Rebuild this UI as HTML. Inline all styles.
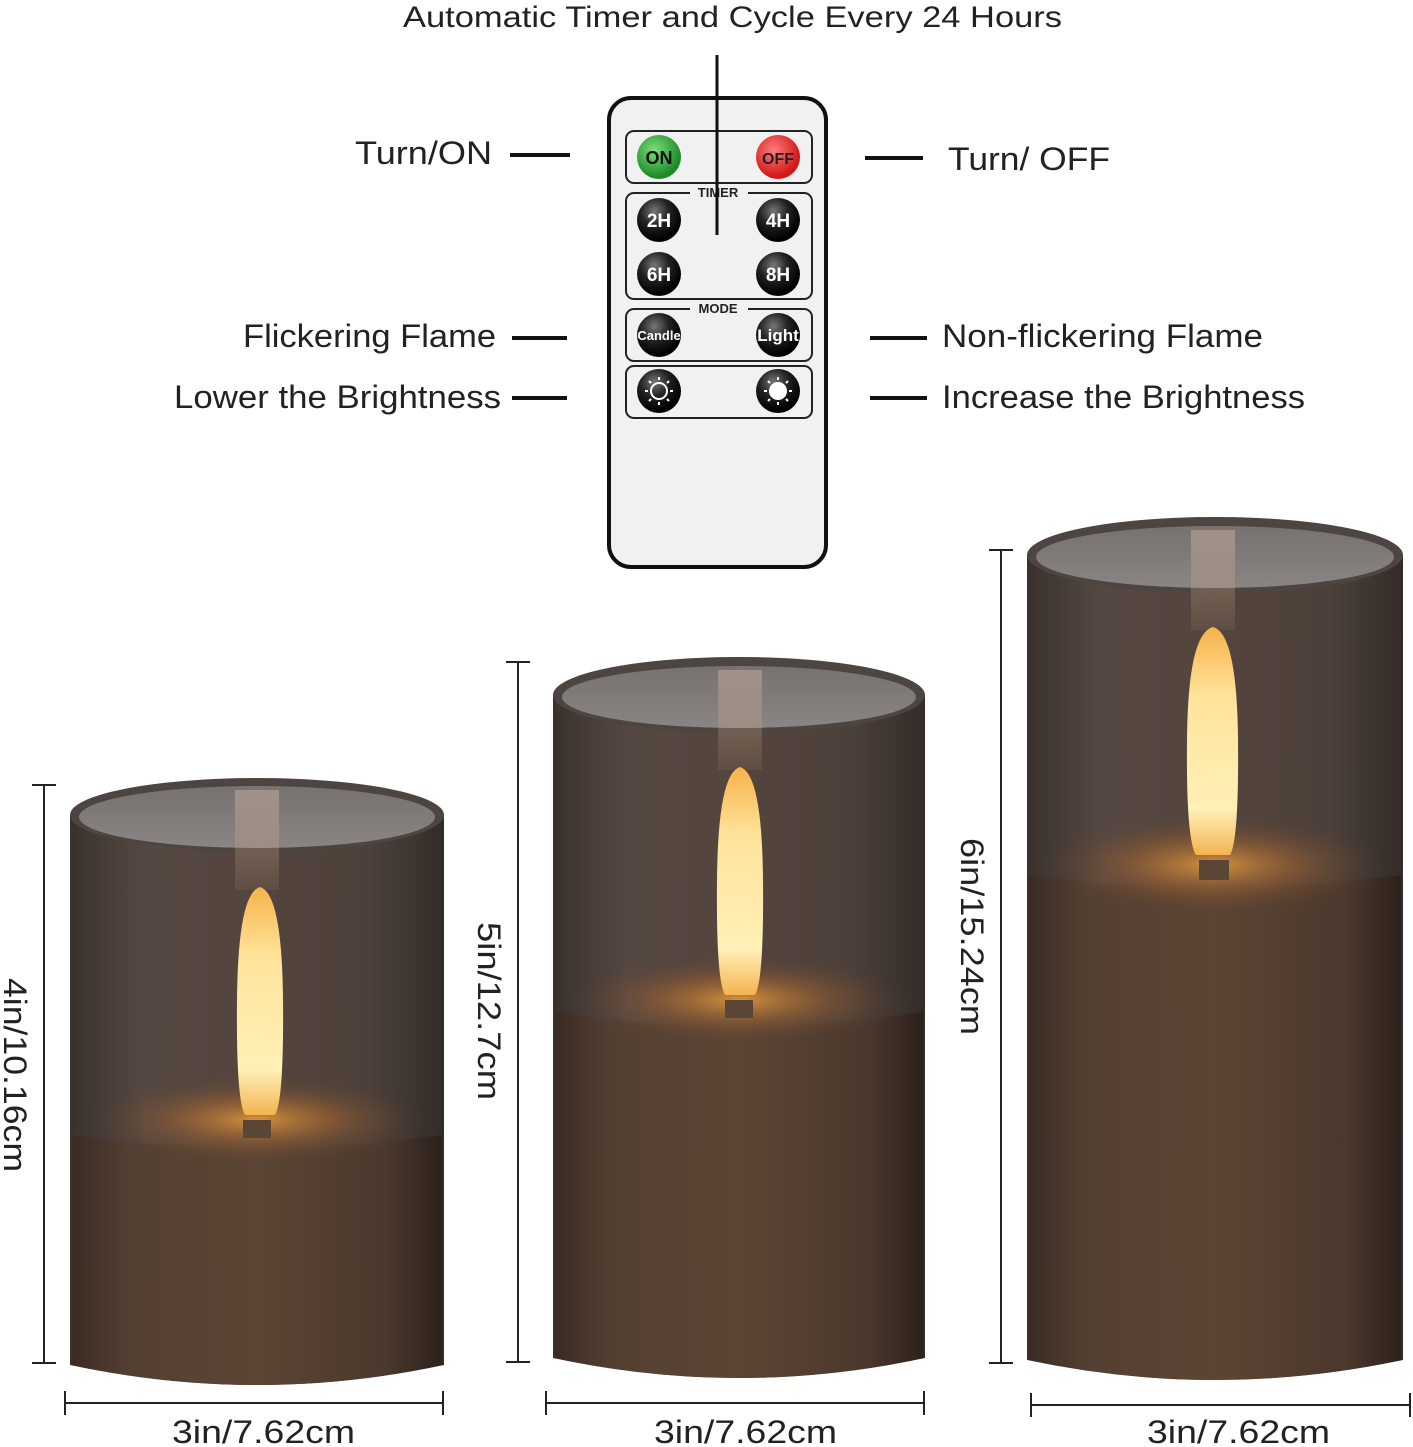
<!DOCTYPE html>
<html><head><meta charset="utf-8"><style>
body{margin:0;background:#fff;}
svg{display:block;font-family:"Liberation Sans","DejaVu Sans",sans-serif;}
</style></head><body>
<svg width="1413" height="1447" viewBox="0 0 1413 1447" xmlns="http://www.w3.org/2000/svg">
<defs>
<linearGradient id="body" x1="0" x2="1" y1="0" y2="0">
<stop offset="0" stop-color="#3a2b23"/><stop offset="0.15" stop-color="#533f32"/><stop offset="0.5" stop-color="#5c4534"/><stop offset="0.85" stop-color="#4b382d"/><stop offset="1" stop-color="#2c211c"/>
</linearGradient>
<linearGradient id="glass" x1="0" x2="1" y1="0" y2="0">
<stop offset="0" stop-color="#3a312d"/><stop offset="0.2" stop-color="#554842"/><stop offset="0.5" stop-color="#54453d"/><stop offset="0.8" stop-color="#4c403a"/><stop offset="1" stop-color="#342c29"/>
</linearGradient>
<linearGradient id="inner" x1="0" x2="0" y1="0" y2="1">
<stop offset="0" stop-color="#77716f"/><stop offset="1" stop-color="#8a8482"/>
</linearGradient>
<linearGradient id="col" x1="0" x2="0" y1="0" y2="1">
<stop offset="0" stop-color="#c9b3a2" stop-opacity="0.5"/><stop offset="1" stop-color="#c9a27f" stop-opacity="0.1"/>
</linearGradient>
<radialGradient id="glow" cx="0.5" cy="0.5" r="0.5">
<stop offset="0" stop-color="#e39a3d" stop-opacity="0.9"/><stop offset="0.5" stop-color="#a0622f" stop-opacity="0.5"/><stop offset="1" stop-color="#5a4032" stop-opacity="0"/>
</radialGradient>
<linearGradient id="flame" x1="0" x2="0" y1="0" y2="1">
<stop offset="0" stop-color="#f7b24a"/><stop offset="0.3" stop-color="#ffe39a"/><stop offset="0.8" stop-color="#fff0b8"/><stop offset="1" stop-color="#f3b450"/>
</linearGradient>
<radialGradient id="btnG" cx="0.4" cy="0.35" r="0.6"><stop offset="0" stop-color="#7be07b"/><stop offset="1" stop-color="#1d8a2a"/></radialGradient>
<radialGradient id="btnR" cx="0.4" cy="0.35" r="0.6"><stop offset="0" stop-color="#ff7b7b"/><stop offset="1" stop-color="#d11818"/></radialGradient>
<radialGradient id="btnK" cx="0.4" cy="0.3" r="0.65"><stop offset="0" stop-color="#777"/><stop offset="0.5" stop-color="#222"/><stop offset="1" stop-color="#000"/></radialGradient>
</defs>

<text x="403" y="27" font-size="30" fill="#222" textLength="659" lengthAdjust="spacingAndGlyphs">Automatic Timer and Cycle Every 24 Hours</text>

<!-- Remote -->
<rect x="609" y="98" width="217" height="469" rx="22" fill="#f1f1f1" stroke="#111" stroke-width="4"/>
<rect x="626" y="131" width="186" height="52" rx="8" fill="none" stroke="#222" stroke-width="2"/>
<rect x="626" y="193" width="186" height="106" rx="8" fill="none" stroke="#222" stroke-width="2"/>
<rect x="626" y="309" width="186" height="52" rx="8" fill="none" stroke="#222" stroke-width="2"/>
<rect x="626" y="366" width="186" height="52" rx="8" fill="none" stroke="#222" stroke-width="2"/>
<rect x="690" y="185" width="58" height="14" fill="#f1f1f1"/>
<rect x="690" y="301" width="58" height="14" fill="#f1f1f1"/>
<text x="718" y="197" font-size="13" font-weight="bold" text-anchor="middle" fill="#222">TIMER</text>
<text x="718" y="313" font-size="13" font-weight="bold" text-anchor="middle" fill="#222">MODE</text>
<line x1="717" y1="55" x2="717" y2="235" stroke="#111" stroke-width="3"/>
<circle cx="659" cy="157" r="22" fill="url(#btnG)"/><text x="659" y="164" font-size="18" font-weight="bold" text-anchor="middle" fill="#111">ON</text>
<circle cx="778" cy="157" r="22" fill="url(#btnR)"/><text x="778" y="164" font-size="16" font-weight="bold" text-anchor="middle" fill="#222">OFF</text>
<g fill="#fff" font-size="19" font-weight="bold" text-anchor="middle">
<circle cx="659" cy="220" r="22" fill="url(#btnK)"/><text x="659" y="227">2H</text>
<circle cx="778" cy="220" r="22" fill="url(#btnK)"/><text x="778" y="227">4H</text>
<circle cx="659" cy="274" r="22" fill="url(#btnK)"/><text x="659" y="281">6H</text>
<circle cx="778" cy="274" r="22" fill="url(#btnK)"/><text x="778" y="281">8H</text>
<circle cx="659" cy="335" r="22" fill="url(#btnK)"/><text x="659" y="340" font-size="13">Candle</text>
<circle cx="778" cy="335" r="22" fill="url(#btnK)"/><text x="778" y="341" font-size="17">Light</text>
<circle cx="659" cy="391" r="22" fill="url(#btnK)"/>
<circle cx="778" cy="391" r="22" fill="url(#btnK)"/>
</g>
<circle cx="659" cy="391" r="8" fill="none" stroke="#fff" stroke-width="2"/>
<g stroke="#fff" stroke-width="2">
<line x1="659" y1="377" x2="659" y2="380"/><line x1="659" y1="402" x2="659" y2="405"/><line x1="645" y1="391" x2="648" y2="391"/><line x1="670" y1="391" x2="673" y2="391"/>
<line x1="649" y1="381" x2="651" y2="383"/><line x1="667" y1="399" x2="669" y2="401"/><line x1="649" y1="401" x2="651" y2="399"/><line x1="667" y1="383" x2="669" y2="381"/>
<line x1="778" y1="377" x2="778" y2="380"/><line x1="778" y1="402" x2="778" y2="405"/><line x1="764" y1="391" x2="767" y2="391"/><line x1="789" y1="391" x2="792" y2="391"/>
<line x1="768" y1="381" x2="770" y2="383"/><line x1="786" y1="399" x2="788" y2="401"/><line x1="768" y1="401" x2="770" y2="399"/><line x1="786" y1="383" x2="788" y2="381"/>
</g>
<circle cx="778" cy="391" r="9" fill="#fff"/>

<!-- Labels -->
<g font-size="32" fill="#222" lengthAdjust="spacingAndGlyphs">
<text x="355" y="164" textLength="137" lengthAdjust="spacingAndGlyphs">Turn/ON</text>
<text x="948" y="170" textLength="162" lengthAdjust="spacingAndGlyphs">Turn/ OFF</text>
<text x="243" y="347" textLength="253" lengthAdjust="spacingAndGlyphs">Flickering Flame</text>
<text x="942" y="347" textLength="321" lengthAdjust="spacingAndGlyphs">Non-flickering Flame</text>
<text x="174" y="408" textLength="327" lengthAdjust="spacingAndGlyphs">Lower the Brightness</text>
<text x="942" y="408" textLength="363" lengthAdjust="spacingAndGlyphs">Increase the Brightness</text>
</g>
<g stroke="#111" stroke-width="4">
<line x1="510" y1="155" x2="570" y2="155"/>
<line x1="865" y1="158" x2="923" y2="158"/>
<line x1="512" y1="338" x2="567" y2="338"/>
<line x1="870" y1="338" x2="927" y2="338"/>
<line x1="512" y1="398" x2="567" y2="398"/>
<line x1="870" y1="398" x2="927" y2="398"/>
</g>

<!-- Candle 1 -->
<g>
<path d="M70 815 L70 1365 Q257 1405 444 1365 L444 815 Z" fill="url(#glass)"/>
<path d="M72 1135 L72 1365 Q257 1405 442 1365 L442 1135 Q257 1160 72 1135 Z" fill="url(#body)"/>
<ellipse cx="257" cy="1120" rx="170" ry="45" fill="url(#glow)"/>
<ellipse cx="257" cy="815" rx="187" ry="37" fill="#4d4541"/>
<ellipse cx="257" cy="817" rx="178" ry="31" fill="url(#inner)"/>
<rect x="235" y="790" width="44" height="100" fill="url(#col)"/>
<path d="M260 887 Q238 893 237 1000 Q236 1100 245 1115 L275 1115 Q284 1100 283 1000 Q282 893 260 887 Z" fill="url(#flame)"/>
<rect x="243" y="1120" width="28" height="18" fill="#5a4636"/>
</g>
<!-- Candle 2 -->
<g>
<path d="M553 695 L553 1358 Q739 1398 925 1358 L925 695 Z" fill="url(#glass)"/>
<path d="M555 1012 L555 1358 Q739 1398 923 1358 L923 1012 Q739 1040 555 1012 Z" fill="url(#body)"/>
<ellipse cx="739" cy="1000" rx="170" ry="45" fill="url(#glow)"/>
<ellipse cx="739" cy="695" rx="186" ry="38" fill="#4d4541"/>
<ellipse cx="739" cy="697" rx="177" ry="31" fill="url(#inner)"/>
<rect x="718" y="670" width="44" height="100" fill="url(#col)"/>
<path d="M740 767 Q718 773 717 880 Q716 980 725 995 L755 995 Q764 980 763 880 Q762 773 740 767 Z" fill="url(#flame)"/>
<rect x="725" y="1000" width="28" height="18" fill="#5a4636"/>
</g>
<!-- Candle 3 -->
<g>
<path d="M1027 555 L1027 1360 Q1215 1400 1403 1360 L1403 555 Z" fill="url(#glass)"/>
<path d="M1029 875 L1029 1360 Q1215 1400 1401 1360 L1401 875 Q1215 900 1029 875 Z" fill="url(#body)"/>
<ellipse cx="1213" cy="865" rx="175" ry="50" fill="url(#glow)"/>
<ellipse cx="1215" cy="555" rx="188" ry="38" fill="#4d4541"/>
<ellipse cx="1215" cy="557" rx="179" ry="31" fill="url(#inner)"/>
<rect x="1191" y="530" width="44" height="100" fill="url(#col)"/>
<path d="M1213 627 Q1188 633 1187 740 Q1186 840 1196 855 L1230 855 Q1239 840 1238 740 Q1237 633 1213 627 Z" fill="url(#flame)"/>
<rect x="1199" y="860" width="30" height="20" fill="#5a4636"/>
</g>

<!-- Dimensions -->
<g stroke="#222" stroke-width="2">
<line x1="44" y1="785" x2="44" y2="1363"/><line x1="32" y1="785" x2="56" y2="785"/><line x1="32" y1="1363" x2="56" y2="1363"/>
<line x1="518" y1="662" x2="518" y2="1362"/><line x1="506" y1="662" x2="530" y2="662"/><line x1="506" y1="1362" x2="530" y2="1362"/>
<line x1="1001" y1="550" x2="1001" y2="1363"/><line x1="989" y1="550" x2="1013" y2="550"/><line x1="989" y1="1363" x2="1013" y2="1363"/>
<line x1="65" y1="1403" x2="443" y2="1403"/><line x1="65" y1="1391" x2="65" y2="1415"/><line x1="443" y1="1391" x2="443" y2="1415"/>
<line x1="546" y1="1403" x2="924" y2="1403"/><line x1="546" y1="1391" x2="546" y2="1415"/><line x1="924" y1="1391" x2="924" y2="1415"/>
<line x1="1031" y1="1405" x2="1410" y2="1405"/><line x1="1031" y1="1393" x2="1031" y2="1417"/><line x1="1410" y1="1393" x2="1410" y2="1417"/>
</g>
<g font-size="32" fill="#222">
<text transform="translate(4,978) rotate(90)" textLength="194" lengthAdjust="spacingAndGlyphs">4in/10.16cm</text>
<text transform="translate(478,922) rotate(90)" textLength="178" lengthAdjust="spacingAndGlyphs">5in/12.7cm</text>
<text transform="translate(961,838) rotate(90)" textLength="197" lengthAdjust="spacingAndGlyphs">6in/15.24cm</text>
<text x="172" y="1443" textLength="183" lengthAdjust="spacingAndGlyphs">3in/7.62cm</text>
<text x="654" y="1443" textLength="183" lengthAdjust="spacingAndGlyphs">3in/7.62cm</text>
<text x="1147" y="1443" textLength="183" lengthAdjust="spacingAndGlyphs">3in/7.62cm</text>
</g>
</svg>
</body></html>
